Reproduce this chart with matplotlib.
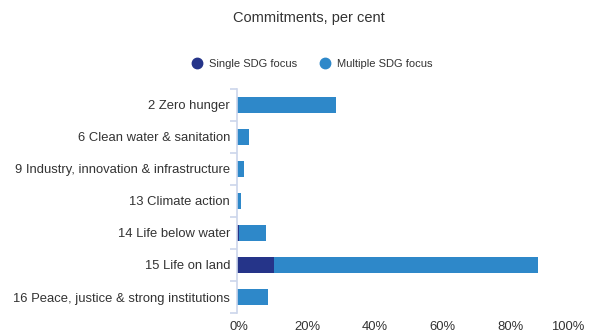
import matplotlib.pyplot as plt
import numpy as np
from matplotlib.lines import Line2D
from matplotlib.ticker import FuncFormatter
from matplotlib.transforms import ScaledTranslation

plt.rcParams['font.family'] = ['Liberation Sans', 'DejaVu Sans']

categories = ['2 Zero hunger', '6 Clean water & sanitation',
              '9 Industry, innovation & infrastructure', '13 Climate action',
              '14 Life below water', '15 Life on land',
              '16 Peace, justice & strong institutions']
single = [0, 0, 0, 0, 0.5, 10.9, 0]
multiple = [29.1, 3.5, 2.0, 1.2, 8.0, 77.6, 9.1]

c_single = '#253489'
c_multi = '#2e88c9'
axis_col = '#ccd6eb'
txt = '#333333'

fig = plt.figure(figsize=(5.91, 3.33), dpi=100)
ax = fig.add_axes([0.401, 0.060, 0.575, 0.673])

y = np.arange(len(categories))
ax.barh(y, single, height=0.5, color=c_single)
ax.barh(y, multiple, left=single, height=0.5, color=c_multi)

ax.set_ylim(len(categories) - 0.5, -0.5)
ax.set_xlim(0, 100)
ax.set_yticks(y)
ax.set_yticklabels(categories)
ax.set_yticks(np.arange(-0.5, len(categories)), minor=True)
ax.tick_params(axis='y', which='major', length=0, pad=5, labelsize=9.4, labelcolor=txt)
ax.tick_params(axis='y', which='minor', length=5, width=1.2, color=axis_col)
ax.set_xticks(np.arange(0, 101, 20))
ax.xaxis.set_major_formatter(FuncFormatter(lambda v, p: f'{v:.0f}%'))
ax.tick_params(axis='x', length=0, pad=6, labelsize=9.4, labelcolor=txt)

# keep the last x label inside the figure
xl = ax.get_xticklabels()
for lab in xl:
    lab.set_transform(lab.get_transform() + ScaledTranslation(0.02, 0, fig.dpi_scale_trans))
xl[-1].set_transform(xl[-1].get_transform() + ScaledTranslation(-0.11, 0, fig.dpi_scale_trans))

for s in ['top', 'right', 'bottom']:
    ax.spines[s].set_visible(False)
ax.spines['left'].set_color(axis_col)
ax.spines['left'].set_linewidth(1.2)

fig.text(0.523, 0.945, 'Commitments, per cent', ha='center', va='center',
         fontsize=10.5, color=txt)

handles = [Line2D([], [], marker='o', ls='', markersize=7.5, color=c_single),
           Line2D([], [], marker='o', ls='', markersize=7.5, color=c_multi)]
fig.legend(handles, ['Single SDG focus', 'Multiple SDG focus'], loc='center',
           bbox_to_anchor=(0.523, 0.808), ncol=2, frameon=False, fontsize=8,
           labelcolor=txt, handletextpad=0.1, columnspacing=1.5)

fig.savefig('out.png', dpi=100)
